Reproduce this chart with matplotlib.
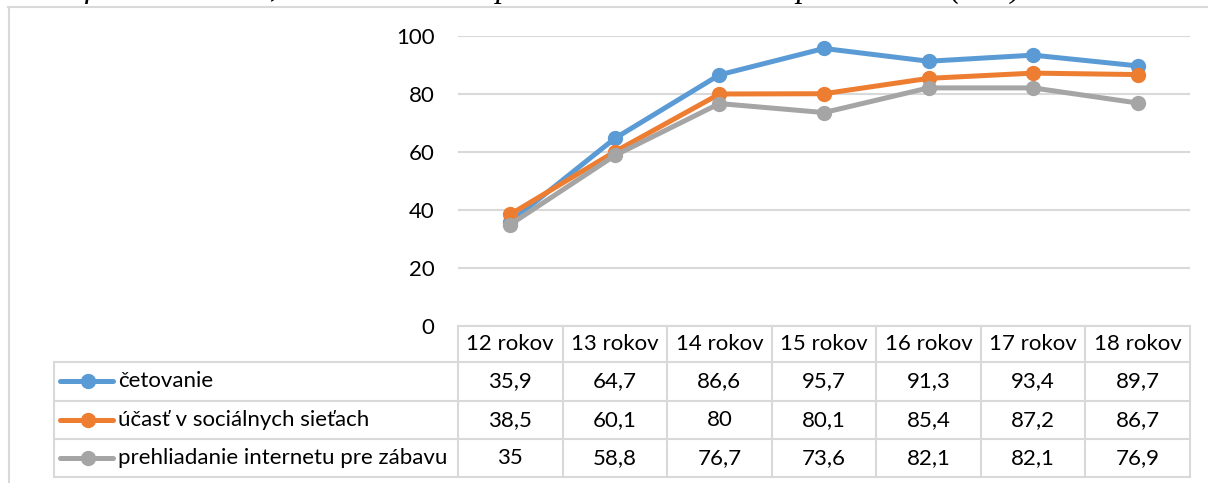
import matplotlib

matplotlib.use("Agg")
import matplotlib.pyplot as plt  # noqa: E402
from matplotlib.lines import Line2D  # noqa: E402

plt.rcParams.update({
    "font.family": ["Lato", "DejaVu Sans"],
    "font.size": 16,
})

# data
ages = ["12 rokov", "13 rokov", "14 rokov", "15 rokov", "16 rokov", "17 rokov", "18 rokov"]
series_names = ["četovanie", "účasť v sociálnych sieťach", "prehliadanie internetu pre zábavu"]
chat = [35.9, 64.7, 86.6, 95.7, 91.3, 93.4, 89.7]
social = [38.5, 60.1, 80, 80.1, 85.4, 87.2, 86.7]
browsing = [35, 58.8, 76.7, 73.6, 82.1, 82.1, 76.9]
series_values = [chat, social, browsing]
colors = ["#5B9BD5", "#ED7D31", "#A5A5A5"]
yticks = [0, 20, 40, 60, 80, 100]
title = "Graf 4: Četovanie, sociálne siete a prehliadanie internetu podľa veku (v %)"

W, H = 1208, 483
GRID = "#D9D9D9"
LW, MS = 3.6, 10

# layout in pixels (from top-left)
plot_left, plot_right = 458, 1190
plot_top, plot_bottom = 36, 326
label_left = 54
row_edges = [326, 362, 400.5, 439, 477]

fig = plt.figure(figsize=(W / 100, H / 100), dpi=100)


def fx(px):
    return px / W


def fy(py):
    return 1 - py / H


# outer chart frame
fig.add_artist(Line2D([fx(8.5), fx(8.5)], [fy(7), 0], color=GRID, lw=1.5,
                      transform=fig.transFigure))
fig.add_artist(Line2D([fx(8), 1], [fy(7), fy(7)], color=GRID, lw=1.5,
                      transform=fig.transFigure))

# caption above the chart, cut by the top edge as in the source
fig.text(fx(1022), fy(-3), title, ha="right", va="baseline", style="italic",
         family="Liberation Serif", fontsize=23.5)

ax = fig.add_axes([fx(plot_left), fy(plot_bottom), fx(plot_right - plot_left),
                   (plot_bottom - plot_top) / H])
x = range(len(ages))
for vals, c in zip(series_values, colors):
    ax.plot(x, vals, color=c, lw=LW, marker="o", ms=MS, zorder=3,
            solid_capstyle="round")
ax.set_xlim(-0.5, len(ages) - 0.5)
ax.set_ylim(0, 100)
ax.set_yticks(yticks)
ax.set_xticks([])
ax.tick_params(axis="y", length=0, pad=17, labelsize=16)
ax.grid(axis="y", color=GRID, lw=1.5)
ax.set_axisbelow(True)
for s in ax.spines.values():
    s.set_visible(False)
ax.patch.set_alpha(0)

# data table under the axis, x in the same category units as the plot
col_w = (plot_right - plot_left) / len(ages)
x_left = -0.5 - (plot_left - label_left) / col_w


def ux(px):
    return x_left + (px - label_left) / col_w


tab = fig.add_axes([fx(label_left), fy(row_edges[-1]), fx(plot_right - label_left),
                    (row_edges[-1] - row_edges[0]) / H])
tab.set_xlim(x_left, len(ages) - 0.5)
tab.set_ylim(row_edges[-1], row_edges[0])
tab.axis("off")

kw = dict(color=GRID, lw=1.5, clip_on=False)
tab.plot([-0.5, len(ages) - 0.5], [row_edges[0]] * 2, **kw)
for y in row_edges[1:]:
    tab.plot([x_left, len(ages) - 0.5], [y, y], **kw)
tab.plot([x_left, x_left], [row_edges[1], row_edges[-1]], **kw)
for i in range(len(ages) + 1):
    tab.plot([i - 0.5, i - 0.5], [row_edges[0], row_edges[-1]], **kw)

fs = 16
for i, a in enumerate(ages):
    tab.text(i, (row_edges[0] + row_edges[1]) / 2, a, ha="center", va="center", fontsize=fs)

for r, (name, vals, c) in enumerate(zip(series_names, series_values, colors)):
    yc = (row_edges[r + 1] + row_edges[r + 2]) / 2
    tab.plot([ux(60), ux(113)], [yc, yc], color=c, lw=LW, solid_capstyle="round")
    tab.plot([ux(88)], [yc], "o", color=c, ms=MS)
    tab.text(ux(118), yc, name, ha="left", va="center", fontsize=fs)
    for i, v in enumerate(vals):
        tab.text(i, yc, f"{v:g}".replace(".", ","), ha="center", va="center", fontsize=fs)

fig.savefig("out.png", dpi=100, facecolor="white")
